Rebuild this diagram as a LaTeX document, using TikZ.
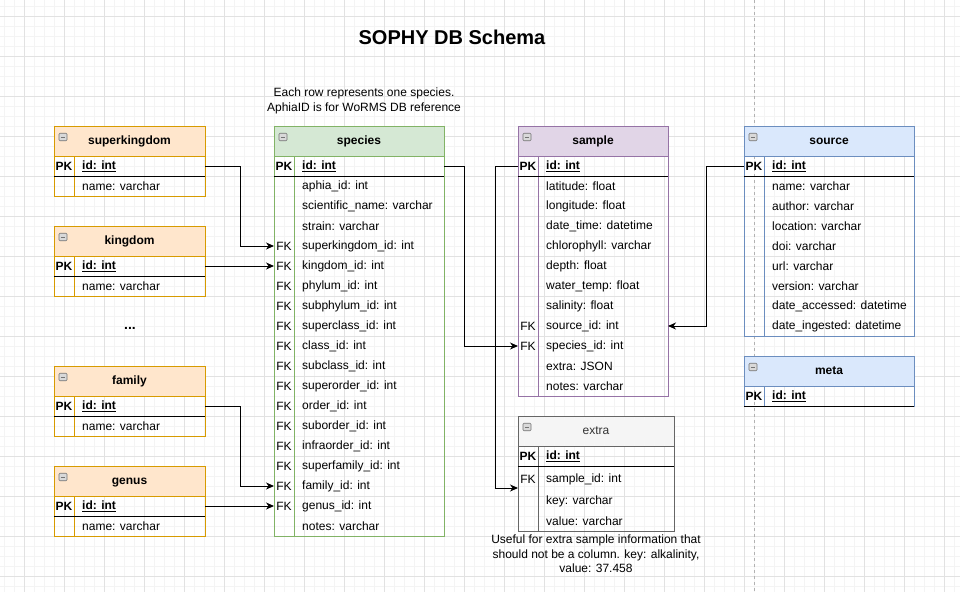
\documentclass[tikz,border=0pt]{standalone}
\usepackage{fontspec}
\setmainfont{Liberation Sans}
\usetikzlibrary{arrows.meta,calc}
\definecolor{orfill}{HTML}{FFE6CC}\definecolor{orline}{HTML}{D79B00}
\definecolor{grfill}{HTML}{D5E8D4}\definecolor{grline}{HTML}{82B366}
\definecolor{pufill}{HTML}{E1D5E7}\definecolor{puline}{HTML}{9673A6}
\definecolor{blfill}{HTML}{DAE8FC}\definecolor{blline}{HTML}{6C8EBF}
\definecolor{gyfill}{HTML}{F5F5F5}\definecolor{gyline}{HTML}{666666}
\definecolor{gridminor}{HTML}{F4F4F4}\definecolor{gridmajor}{HTML}{E2E2E2}
\definecolor{darktext}{HTML}{333333}
\tikzset{
  txt/.style={font=\fontsize{12}{14.6}\selectfont, inner sep=0pt},
  field/.style={txt, anchor=west},
  keylab/.style={txt, anchor=center},
  tablebox/.style={anchor=north west, inner sep=0pt, outer sep=0pt, line width=1pt},
  headbox/.style={anchor=north west, inner sep=0pt, outer sep=0pt, line width=1pt, minimum height=30pt, text height=9pt, text depth=1.5pt, font=\fontsize{12}{14}\selectfont\bfseries},
  iconbox/.style={draw=gray!90!black, fill=gray!30, rounded corners=1pt, minimum width=8pt, minimum height=7.5pt, inner sep=0pt, line width=0.6pt,
    path picture={\draw[line width=0.9pt] ([xshift=1.8pt]path picture bounding box.west) -- ([xshift=-1.8pt]path picture bounding box.east);}},
  sepline/.style={line width=1pt, black},
  fk/.style={line width=1pt, -{Stealth[length=8pt, width=7pt, inset=2.5pt]}},
  minorgrid/.style={gridminor, line width=0.8pt},
  majorgrid/.style={gridmajor, line width=1pt},
  guide/.style={gray!60, line width=1pt, dash pattern=on 3pt off 3pt},
}
\newcommand{\erd}[7]{%
  \node[tablebox, draw=#6line, minimum width=#4pt, minimum height=#5pt] (#1) at (#2,#3) {};
  \node[headbox, fill=#6fill, draw=#6line, minimum width=#4pt] (#1-head) at (#2,#3) {#7};
  \node[iconbox] (#1-icon) at (#2+9,#3+11) {};
  \draw[#6line, line width=1pt] (#2+20,#3+30) -- (#2+20,#3+#5);
  \draw[sepline] (#2,#3+50) -- (#2+#4,#3+50);
  \node[keylab] (#1-pk) at (#2+10,#3+40) {\bfseries PK};
  \node[field] (#1-id) at (#2+28,#3+40) {\bfseries\underline{id: int}};
}
\begin{document}
\begin{tikzpicture}[x=1pt,y=-1pt]
\useasboundingbox (0,0) rectangle (960,592);
\fill[white] (0,0) rectangle (960,592);
% grid
\foreach \x in {4,14,...,954} \draw[minorgrid] (\x,0) -- (\x,592);
\foreach \y in {6,16,...,586} \draw[minorgrid] (0,\y) -- (960,\y);
\foreach \x in {24,64,...,944} \draw[majorgrid] (\x,0) -- (\x,592);
\foreach \y in {16,56,...,576} \draw[majorgrid] (0,\y) -- (960,\y);
\draw[guide] (754,0) -- (754,592);

% title and notes
\node[inner sep=0pt, font=\fontsize{20}{24}\selectfont\bfseries] (title) at (452,37) {SOPHY DB Schema};
\node[txt, align=center] (spnote) at (364,101) {Each row represents one species.\\AphiaID is for WoRMS DB reference};
\node[txt, align=center] (exnote) at (596,554) {Useful for extra sample information that\\should not be a column. key: alkalinity,\\value: 37.458};
\node[inner sep=0pt, font=\fontsize{14}{16}\selectfont\bfseries] (dots) at (130,328) {...};

% small taxonomy tables
\erd{sk}{54}{126}{151}{70}{or}{superkingdom}
\node[field] (sk-name) at (82,186) {name: varchar};
\erd{kg}{54}{226}{151}{70}{or}{kingdom}
\node[field] (kg-name) at (82,286) {name: varchar};
\erd{fa}{54}{366}{151}{70}{or}{family}
\node[field] (fa-name) at (82,426) {name: varchar};
\erd{ge}{54}{466}{151}{70}{or}{genus}
\node[field] (ge-name) at (82,526) {name: varchar};

% species
\erd{sp}{274}{126}{170}{410}{gr}{species}
\foreach \t [count=\i] in {aphia\_id: int, scientific\_name: varchar, strain: varchar, superkingdom\_id: int, kingdom\_id: int, phylum\_id: int, subphylum\_id: int, superclass\_id: int, class\_id: int, subclass\_id: int, superorder\_id: int, order\_id: int, suborder\_id: int, infraorder\_id: int, superfamily\_id: int, family\_id: int, genus\_id: int, notes: varchar}
  \node[field] (sp-r\i) at (302,166+20*\i) {\t};
\foreach \i in {4,...,17}
  \node[keylab] (sp-k\i) at (284,166+20*\i) {FK};

% sample
\erd{sa}{518}{126}{150}{270}{pu}{sample}
\foreach \t [count=\i] in {latitude: float, longitude: float, date\_time: datetime, chlorophyll: varchar, depth: float, water\_temp: float, salinity: float, source\_id: int, species\_id: int, extra: JSON, notes: varchar}
  \node[field] (sa-r\i) at (546,166+20*\i) {\t};
\foreach \i in {8,9}
  \node[keylab] (sa-k\i) at (528,166+20*\i) {FK};

% extra
\erd{ex}{518}{416}{156}{115}{gy}{{\mdseries\color{darktext}extra}}
\node[field] (ex-r1) at (546,479) {sample\_id: int};
\node[field] (ex-r2) at (546,501) {key: varchar};
\node[field] (ex-r3) at (546,521) {value: varchar};
\node[keylab] (ex-k1) at (528,479) {FK};

% source
\erd{so}{744}{126}{170}{210}{bl}{source}
\foreach \t [count=\i] in {name: varchar, author: varchar, location: varchar, doi: varchar, url: varchar, version: varchar, date\_accessed: datetime, date\_ingested: datetime}
  \node[field] (so-r\i) at (772,166+20*\i) {\t};

% meta
\erd{me}{744}{356}{170}{50}{bl}{meta}

% connectors
\draw[fk] (sk.east |- sk-pk) -- ++(35,0) |- (sp.west |- sp-k4);
\draw[fk] (kg.east |- kg-pk) -- (sp.west |- sp-k5);
\draw[fk] (fa.east |- fa-pk) -- ++(35,0) |- (sp.west |- sp-k16);
\draw[fk] (ge.east |- ge-pk) -- (sp.west |- sp-k17);
\draw[fk] (sp.east |- sp-pk) -- ++(20,0) |- (sa.west |- sa-k9);
\draw[fk] (sa.west |- sa-pk) -- ++(-23,0) |- ([yshift=-9pt]ex.west |- ex-k1);
\draw[fk] (so.west |- so-pk) -- ++(-38,0) |- (sa.east |- sa-k8);
\end{tikzpicture}
\end{document}
